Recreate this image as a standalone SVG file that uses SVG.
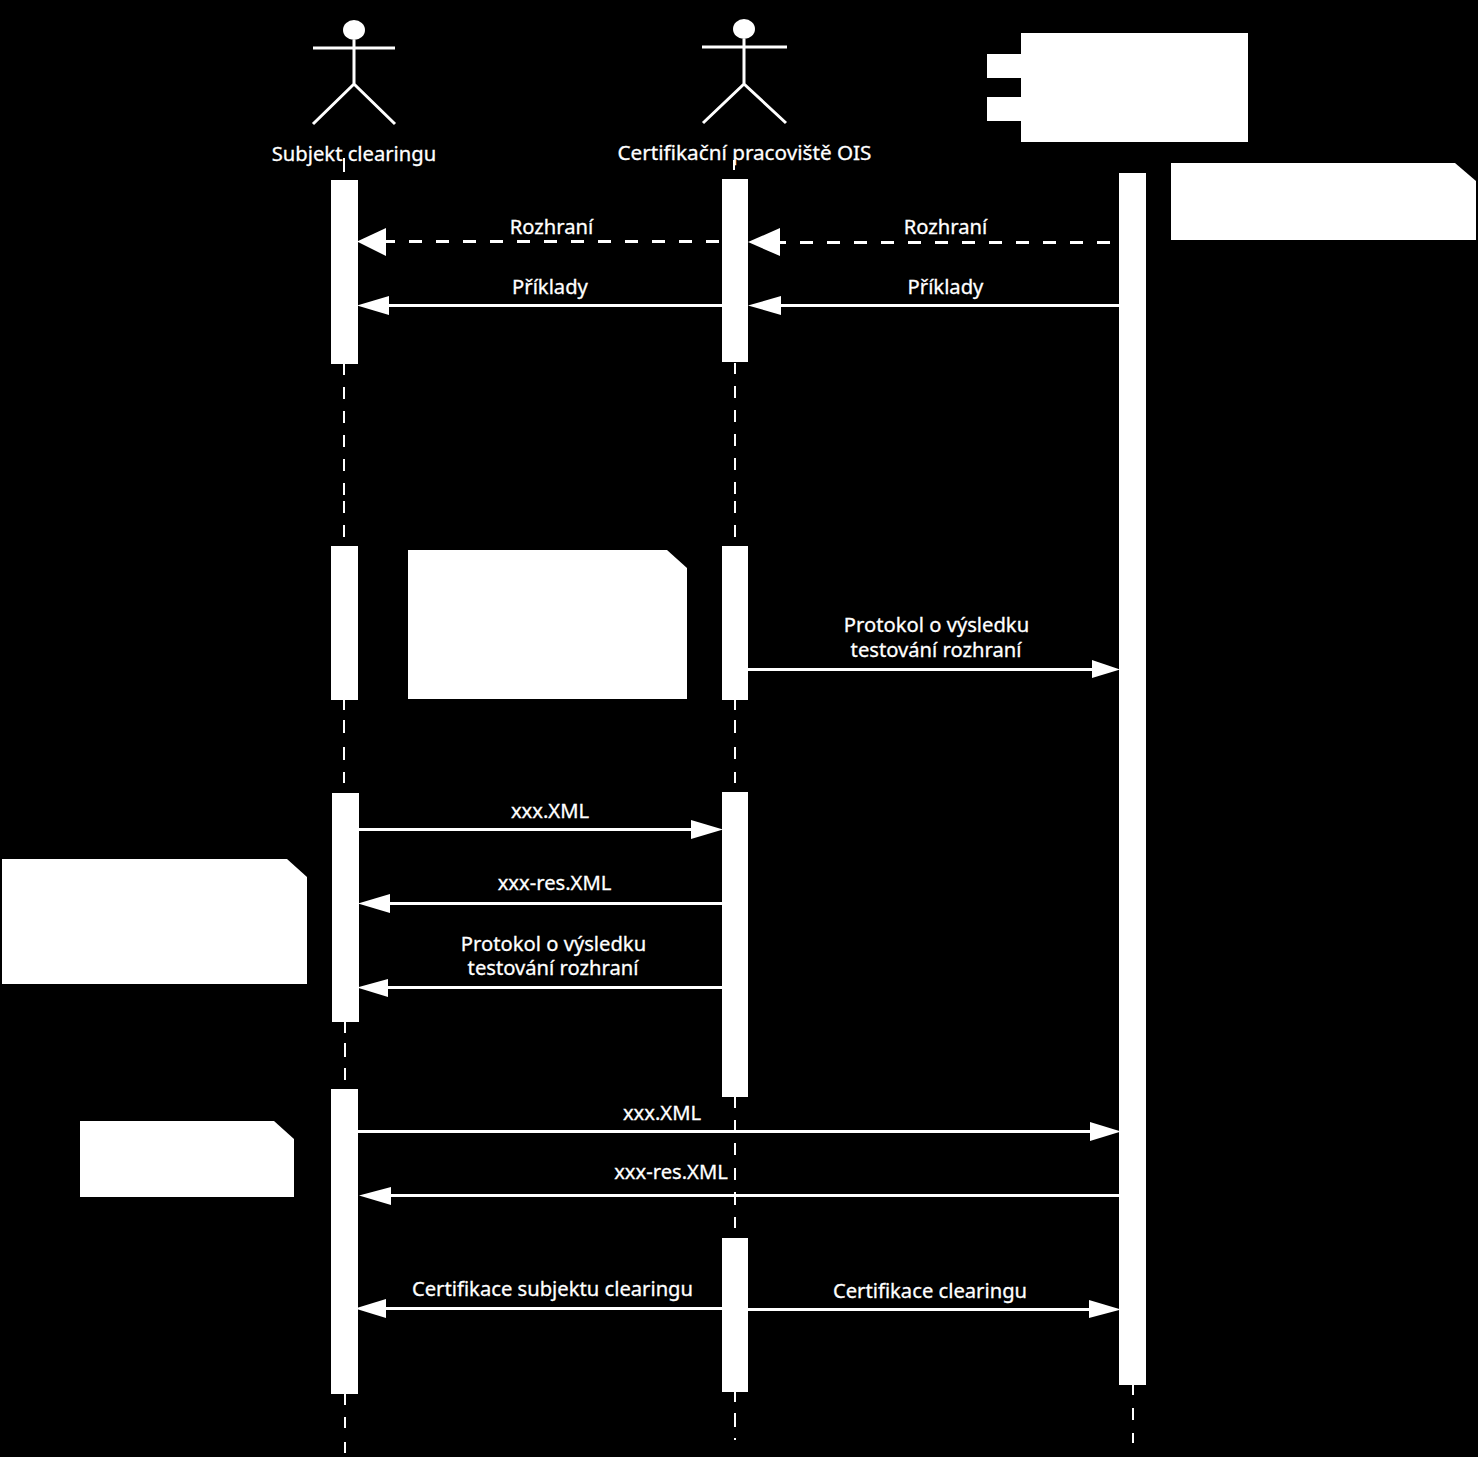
<svg xmlns="http://www.w3.org/2000/svg" width="1478" height="1457" viewBox="0 0 1478 1457">
<style>
.w{fill:#fff;stroke:none;shape-rendering:crispEdges}
.c{fill:#fff;stroke:none}
.ln{stroke:#fff;stroke-width:3;fill:none}
.ll{stroke:#fff;stroke-width:2;fill:none;shape-rendering:crispEdges}
.m{stroke:#fff;stroke-width:3;fill:none;shape-rendering:crispEdges}
.d{stroke-dasharray:13.5 13.5}
.h{fill:#fff;stroke:none}
text{font-family:"Noto Sans","DejaVu Sans",sans-serif;font-size:20.2px;fill:#fff;stroke:#fff;stroke-width:.3;text-anchor:middle}
</style>
<rect width="1478" height="1457" fill="#000"/>
<g id="lifelines">
<path class="ll" d="M344 158V172M344 364V375M344 387V399M344 411V423M344 435V447M344 459V471M344 483V495M344 501V513M344 525V537M344 700V710M344 720V733M344 747V760M344 772V783"/>
<path class="ll" d="M345 1022V1033M345 1043V1057M345 1068V1080M345 1394V1405M345 1417V1428M345 1442V1453"/>
<path class="ll" d="M734 160V170M735 363V374M735 386V398M735 410V422M735 434V446M735 458V470M735 482V494M735 501V513M735 525V537M735 700V710M735 720V733M735 747V759M735 772V783"/>
<path class="ll" d="M735 1097V1108M735 1120V1130M735 1143V1155M735 1168V1180M735 1192V1205M735 1217V1228M735 1392V1402M735 1413V1427M735 1438V1440"/>
<path class="ll" d="M1133 1385V1395M1133 1408V1420M1133 1433V1443"/>
</g>
<g id="actor-subjekt">
<ellipse class="c" cx="354" cy="30" rx="11" ry="10"/>
<path class="ln" d="M354 40V84M313 48H395M313 124L354 84L395 124"/>
<text x="354" y="160.500">Subjekt clearingu</text>
</g>
<g id="actor-certifikacni">
<ellipse class="c" cx="744" cy="29" rx="11" ry="10"/>
<path class="ln" d="M744 39V84M702 47H787M703 123L744 84L786 123"/>
<text x="744.500" y="160" style="font-size:20.7px">Certifikační pracoviště OIS</text>
</g>
<g id="component">
<rect class="w" x="1021" y="33" width="227" height="109"/>
<rect class="w" x="987" y="54" width="34" height="24"/>
<rect class="w" x="987" y="97" width="34" height="24"/>
</g>
<g id="activations">
<rect class="w" x="331" y="180" width="27" height="184"/>
<rect class="w" x="722" y="179" width="26" height="183"/>
<rect class="w" x="1119" y="173" width="27" height="1212"/>
<rect class="w" x="331" y="546" width="27" height="154"/>
<rect class="w" x="722" y="546" width="26" height="154"/>
<rect class="w" x="332" y="793" width="27" height="229"/>
<rect class="w" x="722" y="792" width="26" height="305"/>
<rect class="w" x="331" y="1089" width="27" height="305"/>
<rect class="w" x="722" y="1238" width="26" height="154"/>
</g>
<g id="notes">
<polygon class="c" points="1171,163 1455,163 1476,181 1476,240 1171,240"/>
<polygon class="c" points="408,550 667,550 687,568 687,699 408,699"/>
<polygon class="c" points="2,859 287,859 307,877 307,984 2,984"/>
<polygon class="c" points="80,1121 274,1121 294,1139 294,1197 80,1197"/>
</g>
<g id="connectors">
<line class="m d" x1="719" y1="241" x2="386" y2="241"/>
<polygon class="h" points="357,241.500 386,228 386,256"/>
<line class="m d" x1="1110" y1="242" x2="780" y2="242"/>
<polygon class="h" points="748,242 780,228 780,256"/>
<line class="m" x1="722" y1="305" x2="385" y2="305"/>
<polygon class="h" points="357,305.500 389,296 389,315"/>
<line class="m" x1="1119" y1="305" x2="778" y2="305"/>
<polygon class="h" points="748,305.500 781,296 781,315"/>
<line class="m" x1="748" y1="669" x2="1095" y2="669"/>
<polygon class="h" points="1120,669.500 1092,660 1092,678"/>
<line class="m" x1="359" y1="829" x2="695" y2="829"/>
<polygon class="h" points="723,829.500 691,820 691,839"/>
<line class="m" x1="722" y1="903" x2="385" y2="903"/>
<polygon class="h" points="358,903.500 390,894 390,913"/>
<line class="m" x1="722" y1="987" x2="385" y2="987"/>
<polygon class="h" points="357,987.500 388,979 388,997"/>
<line class="m" x1="358" y1="1131" x2="1095" y2="1131"/>
<polygon class="h" points="1121,1131.500 1090,1122 1090,1141"/>
<line class="m" x1="1119" y1="1195" x2="388" y2="1195"/>
<polygon class="h" points="359,1195.500 391,1187 391,1205"/>
<line class="m" x1="722" y1="1308" x2="383" y2="1308"/>
<polygon class="h" points="355,1308.500 386,1299 386,1318"/>
<line class="m" x1="748" y1="1309" x2="1093" y2="1309"/>
<polygon class="h" points="1121,1309.500 1089,1300 1089,1318"/>
</g>
<g id="labels">
<text x="551.500" y="234">Rozhraní</text>
<text x="945.500" y="234">Rozhraní</text>
<text x="550" y="294">Příklady</text>
<text x="945.500" y="294">Příklady</text>
<text x="936.500" y="632">Protokol o výsledku</text>
<text x="936" y="657">testování rozhraní</text>
<text x="550" y="818">xxx.XML</text>
<text x="554.500" y="890">xxx-res.XML</text>
<text x="553.500" y="951">Protokol o výsledku</text>
<text x="553" y="975">testování rozhraní</text>
<text x="662" y="1120">xxx.XML</text>
<text x="671" y="1179">xxx-res.XML</text>
<text x="552.500" y="1296">Certifikace subjektu clearingu</text>
<text x="930" y="1298">Certifikace clearingu</text>
</g>
</svg>
